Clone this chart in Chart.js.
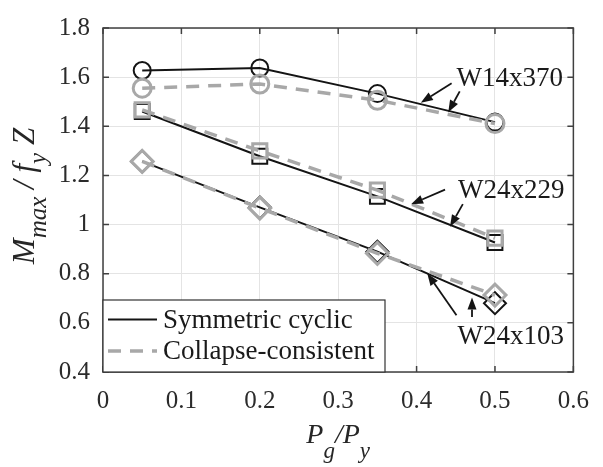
<!DOCTYPE html>
<html>
<head>
<meta charset="utf-8">
<script src="https://cdn.jsdelivr.net/npm/chart.js@4/dist/chart.umd.min.js"></script>
<style>
  html, body { margin: 0; padding: 0; background: #fff; }
  canvas { display: block; }
</style>
</head>
<body>
<canvas id="chart" width="603" height="467"></canvas>
<script>
// Axial load ratio Pg/Py at which each section was tested
const loadRatio = [0.05, 0.2, 0.35, 0.5];

// Peak moment ratio Mmax / fy Z, symmetric cyclic protocol
const w14x370Cyclic = [1.627, 1.637, 1.533, 1.417];
const w24x229Cyclic = [1.46, 1.278, 1.115, 0.927];
const w24x103Cyclic = [1.257, 1.07, 0.89, 0.68];

// Peak moment ratio Mmax / fy Z, collapse-consistent protocol
const w14x370Collapse = [1.555, 1.572, 1.506, 1.411];
const w24x229Collapse = [1.467, 1.30, 1.14, 0.945];
const w24x103Collapse = [1.257, 1.067, 0.883, 0.713];

// Axis ticks
const xTickValues = [0, 0.1, 0.2, 0.3, 0.4, 0.5, 0.6];
const xTickLabels = ['0', '0.1', '0.2', '0.3', '0.4', '0.5', '0.6'];
const yTickValues = [0.4, 0.6, 0.8, 1.0, 1.2, 1.4, 1.6, 1.8];
const yTickLabels = ['0.4', '0.6', '0.8', '1', '1.2', '1.4', '1.6', '1.8'];

const sectionNames = ['W14x370', 'W24x229', 'W24x103'];
const legendLabels = ['Symmetric cyclic', 'Collapse-consistent'];

const BLACK = '#141414';
const GRAY = '#a8a8a8';
const SERIF = "'Liberation Serif', 'DejaVu Serif', serif";

const pts = vals => loadRatio.map((x, i) => ({ x, y: vals[i] }));

function cyclicSet(label, vals, style, radius) {
  return {
    label, data: pts(vals), order: 1,
    borderColor: BLACK, borderWidth: 2, tension: 0,
    pointStyle: style, pointRadius: radius, pointHoverRadius: radius,
    pointBorderColor: BLACK, pointBackgroundColor: 'rgba(0,0,0,0)', pointBorderWidth: 2
  };
}
function collapseSet(label, vals, style, radius) {
  return {
    label, data: pts(vals), order: 0,
    borderColor: GRAY, borderWidth: 3.5, borderDash: [13, 9], tension: 0,
    pointStyle: style, pointRadius: radius, pointHoverRadius: radius,
    pointBorderColor: GRAY, pointBackgroundColor: 'rgba(0,0,0,0)', pointBorderWidth: 3
  };
}

// Callout arrows (tail -> head) and section labels, in data units
const calloutArrows = [
  [[0.4447, 1.575], [0.4054, 1.496]],
  [[0.455, 1.542], [0.4404, 1.457]],
  [[0.4363, 1.142], [0.393, 1.083]],
  [[0.459, 1.083], [0.4426, 0.991]],
  [[0.4509, 0.631], [0.4137, 0.801]],
  [[0.4707, 0.624], [0.4707, 0.703]]
];
const calloutText = [
  [0.4508, 1.565],
  [0.4528, 1.109],
  [0.4522, 0.513]
];

function drawArrow(ctx, x0, y0, x1, y1) {
  const ang = Math.atan2(y1 - y0, x1 - x0);
  const len = 12, half = 4.5;
  const bx = x1 - len * Math.cos(ang), by = y1 - len * Math.sin(ang);
  ctx.beginPath();
  ctx.moveTo(x0, y0);
  ctx.lineTo(bx, by);
  ctx.stroke();
  ctx.beginPath();
  ctx.moveTo(x1, y1);
  ctx.lineTo(bx + half * Math.sin(ang), by - half * Math.cos(ang));
  ctx.lineTo(bx - half * Math.sin(ang), by + half * Math.cos(ang));
  ctx.closePath();
  ctx.fill();
}

// Text runs made of [text, size, italic, baselineShift] pieces
function runWidth(ctx, parts) {
  let w = 0;
  for (const [t, s, it] of parts) {
    ctx.font = (it ? 'italic ' : '') + s + 'px ' + SERIF;
    w += ctx.measureText(t).width;
  }
  return w;
}
function drawRun(ctx, parts, x0, y0) {
  let x = x0;
  for (const [t, s, it, dy] of parts) {
    ctx.font = (it ? 'italic ' : '') + s + 'px ' + SERIF;
    ctx.fillText(t, x, y0 + dy);
    x += ctx.measureText(t).width;
  }
}

const decor = {
  id: 'decor',
  afterDatasetsDraw(chart) {
    const { ctx, chartArea: a, scales: { x, y } } = chart;
    ctx.save();

    // frame with inward ticks
    ctx.strokeStyle = '#404040';
    ctx.lineWidth = 1.5;
    ctx.strokeRect(a.left, a.top, a.right - a.left, a.bottom - a.top);
    ctx.beginPath();
    const tk = 6;
    xTickValues.forEach(v => {
      const px = x.getPixelForValue(v);
      ctx.moveTo(px, a.top); ctx.lineTo(px, a.top + tk);
      ctx.moveTo(px, a.bottom); ctx.lineTo(px, a.bottom - tk);
    });
    yTickValues.forEach(v => {
      const py = y.getPixelForValue(v);
      ctx.moveTo(a.left, py); ctx.lineTo(a.left + tk, py);
      ctx.moveTo(a.right, py); ctx.lineTo(a.right - tk, py);
    });
    ctx.stroke();

    // callouts
    ctx.strokeStyle = BLACK;
    ctx.fillStyle = BLACK;
    ctx.lineWidth = 1.8;
    calloutArrows.forEach(([t, h]) => {
      drawArrow(ctx, x.getPixelForValue(t[0]), y.getPixelForValue(t[1]),
                x.getPixelForValue(h[0]), y.getPixelForValue(h[1]));
    });
    ctx.font = '27px ' + SERIF;
    ctx.textAlign = 'left';
    ctx.textBaseline = 'alphabetic';
    ctx.fillStyle = '#1a1a1a';
    calloutText.forEach(([vx, vy], i) => {
      ctx.fillText(sectionNames[i], x.getPixelForValue(vx), y.getPixelForValue(vy));
    });

    // legend box in the lower-left corner
    const lx = a.left, ly = 300, lw = 282, lh = a.bottom - 300;
    ctx.fillStyle = '#fff';
    ctx.fillRect(lx, ly, lw, lh);
    ctx.strokeStyle = '#333';
    ctx.lineWidth = 1.2;
    ctx.strokeRect(lx, ly, lw, lh);
    const sets = [chart.data.datasets[3], chart.data.datasets[0]];
    const rowY = [319.5, 351];
    sets.forEach((ds, i) => {
      ctx.beginPath();
      ctx.strokeStyle = ds.borderColor;
      ctx.lineWidth = ds.borderWidth;
      ctx.setLineDash(ds.borderDash || []);
      ctx.moveTo(108, rowY[i]);
      ctx.lineTo(157, rowY[i]);
      ctx.stroke();
      ctx.setLineDash([]);
      ctx.fillStyle = '#1a1a1a';
      ctx.font = '27px ' + SERIF;
      ctx.textBaseline = 'middle';
      ctx.fillText(legendLabels[i], 163, rowY[i] + 1);
    });
    ctx.restore();
  },
  afterDraw(chart) {
    const { ctx, chartArea: a } = chart;
    ctx.save();
    ctx.fillStyle = '#262626';
    ctx.textAlign = 'left';
    ctx.textBaseline = 'alphabetic';

    // x-axis title: Pg/Py
    const xParts = [['P', 28, true, 0], ['g', 23, true, 15], ['/', 28, true, 0], ['P', 28, true, 0], ['y', 23, true, 15]];
    const xw = runWidth(ctx, xParts);
    drawRun(ctx, xParts, (a.left + a.right) / 2 - xw / 2, 443);

    // y-axis title: Mmax / fy Z
    const yParts = [['M', 31, true, 0], ['max', 25, true, 12], [' / ', 31, true, 0], ['f', 31, true, 0], ['y', 25, true, 12], [' Z', 31, true, 0]];
    const yw = runWidth(ctx, yParts);
    ctx.translate(34, (a.top + a.bottom) / 2 - 4);
    ctx.rotate(-Math.PI / 2);
    drawRun(ctx, yParts, -yw / 2, 0);
    ctx.restore();
  }
};

function build() {
  new Chart(document.getElementById('chart'), {
    type: 'line',
    data: {
      datasets: [
        collapseSet('W14x370 collapse-consistent', w14x370Collapse, 'circle', 9),
        collapseSet('W24x229 collapse-consistent', w24x229Collapse, 'rect', 10),
        collapseSet('W24x103 collapse-consistent', w24x103Collapse, 'rectRot', 11),
        cyclicSet('W14x370 symmetric cyclic', w14x370Cyclic, 'circle', 8.5),
        cyclicSet('W24x229 symmetric cyclic', w24x229Cyclic, 'rect', 10.5),
        cyclicSet('W24x103 symmetric cyclic', w24x103Cyclic, 'rectRot', 11)
      ]
    },
    options: {
      responsive: false,
      animation: false,
      devicePixelRatio: 1,
      layout: { padding: { left: 0, top: 16, right: 16, bottom: 0 } },
      plugins: { legend: { display: false }, tooltip: { enabled: false } },
      scales: {
        x: {
          type: 'linear', min: 0, max: 0.6,
          afterBuildTicks: s => { s.ticks = xTickValues.map(v => ({ value: v })); },
          afterFit: s => { s.height = 95; },
          grid: { color: '#e4e4e4', lineWidth: 1, drawTicks: false },
          border: { display: false },
          ticks: {
            padding: 14, color: '#2b2b2b', maxRotation: 0,
            font: { family: SERIF, size: 25 },
            callback: (v, i) => xTickLabels[i]
          }
        },
        y: {
          type: 'linear', min: 0.4, max: 1.8,
          afterBuildTicks: s => { s.ticks = yTickValues.map(v => ({ value: v })); },
          afterFit: s => { s.width = 103; },
          grid: { color: '#e4e4e4', lineWidth: 1, drawTicks: false },
          border: { display: false },
          ticks: {
            padding: 13, color: '#2b2b2b',
            font: { family: SERIF, size: 25 },
            callback: (v, i) => yTickLabels[i]
          }
        }
      }
    },
    plugins: [decor]
  });
}

const fontLoads = ['25px', 'italic 25px'].map(f => document.fonts.load(f + " 'Liberation Serif'"));
Promise.all(fontLoads).then(build, build);
</script>
</body>
</html>
